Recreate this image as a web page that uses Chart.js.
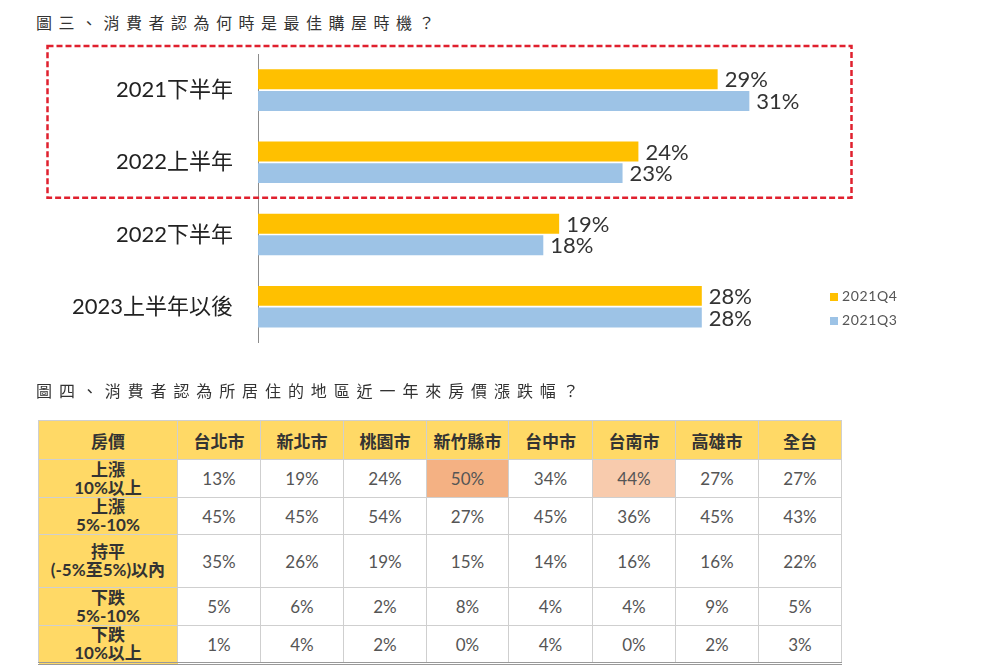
<!DOCTYPE html>
<html><head><meta charset="utf-8">
<script src="https://cdn.jsdelivr.net/npm/chart.js@4.4.1/dist/chart.umd.min.js"></script>
<style>
body{margin:0;background:#fff;width:1000px;height:667px;overflow:hidden;position:relative;font-family:"Noto Sans CJK TC",sans-serif;}
.title{position:absolute;left:36px;font-size:16px;letter-spacing:6.5px;color:#333;line-height:20px;white-space:nowrap;}
#c{position:absolute;left:0;top:0;width:1000px;height:381px;}
.legend{position:absolute;left:830px;font:14px Lato,"Noto Sans CJK TC",sans-serif;color:#555;letter-spacing:0.6px;line-height:18px;}
.legend span.sw{display:inline-block;width:8px;height:8px;margin-right:4px;vertical-align:0px;}
table{position:absolute;left:38px;top:420px;border-collapse:collapse;table-layout:fixed;font-family:Lato,"Noto Sans CJK TC",sans-serif;}
td{border:1px solid #cfcfcf;text-align:center;padding:0;font-size:17px;color:#555;}
td.hd{background:#FFD966;color:#333;font-weight:bold;font-size:17px;}
td.rl{background:#FFD966;color:#333;font-weight:bold;font-size:17px;line-height:18px;}
table{border-bottom:3px double #999;}
</style>
</head><body>
<div class="title" style="top:12px;">圖三、消費者認為何時是最佳購屋時機？</div>
<canvas id="c" width="1000" height="381"></canvas>
<div class="legend" id="legend" style="top:287px;"></div>
<div class="title" style="top:380px;letter-spacing:6.9px;">圖四、消費者認為所居住的地區近一年來房價漲跌幅？</div>
<table id="tbl"></table>
<script>
// ---- Bar chart data ----
const categories = ['2021下半年', '2022上半年', '2022下半年', '2023上半年以後'];
const seriesNames = ['2021Q4', '2021Q3'];
const valuesQ4 = [29, 24, 19, 28];
const valuesQ3 = [31, 23, 18, 28];
const seriesColors = ['#FFC000', '#9DC3E6'];

// ---- Table data ----
const tableHeader = ['房價', '台北市', '新北市', '桃園市', '新竹縣市', '台中市', '台南市', '高雄市', '全台'];
const rowLabels = [['上漲', '10%以上'], ['上漲', '5%-10%'], ['持平', '(-5%至5%)以內'], ['下跌', '5%-10%'], ['下跌', '10%以上']];
const rowUp10 = [13, 19, 24, 50, 34, 44, 27, 27];
const rowUp5 = [45, 45, 54, 27, 45, 36, 45, 43];
const rowFlat = [35, 26, 19, 15, 14, 16, 16, 22];
const rowDown5 = [5, 6, 2, 8, 4, 4, 9, 5];
const rowDown10 = [1, 4, 2, 0, 4, 0, 2, 3];
const tableRows = [rowUp10, rowUp5, rowFlat, rowDown5, rowDown10];
const highlights = [{row: 0, col: 3, color: '#F4B183'}, {row: 0, col: 5, color: '#F8CBAD'}];
const colWidths = [139, 83, 83, 83, 82, 84, 83, 83, 83];
const rowHeights = [39, 38, 37, 53, 38, 38];

// build table
const tbl = document.getElementById('tbl');
const cg = document.createElement('colgroup');
colWidths.forEach(w => { const c = document.createElement('col'); c.style.width = w + 'px'; cg.appendChild(c); });
tbl.appendChild(cg);
const htr = document.createElement('tr'); htr.style.height = rowHeights[0] + 'px';
tableHeader.forEach(h => { const td = document.createElement('td'); td.className = 'hd'; td.textContent = h; htr.appendChild(td); });
tbl.appendChild(htr);
tableRows.forEach((vals, r) => {
  const tr = document.createElement('tr'); tr.style.height = rowHeights[r + 1] + 'px';
  const l = document.createElement('td'); l.className = 'rl'; l.innerHTML = rowLabels[r][0] + '<br>' + rowLabels[r][1]; tr.appendChild(l);
  vals.forEach((v, c) => {
    const td = document.createElement('td'); td.textContent = v + '%';
    const h = highlights.find(x => x.row === r && x.col === c); if (h) td.style.background = h.color;
    tr.appendChild(td);
  });
  tbl.appendChild(tr);
});

// legend
const lg = document.getElementById('legend');
lg.innerHTML = seriesNames.map((n, i) => '<div style="margin-bottom:6px"><span class="sw" style="background:' + seriesColors[i] + '"></span>' + n + '</div>').join('');

const labelFont = '22px Lato, "Noto Sans CJK TC", sans-serif';
const valueLabels = {
  id: 'valueLabels',
  afterDatasetsDraw(chart) {
    const ctx = chart.ctx; ctx.save();
    ctx.font = labelFont; ctx.fillStyle = '#333'; ctx.textBaseline = 'middle'; ctx.textAlign = 'left';
    chart.data.datasets.forEach((ds, i) => {
      chart.getDatasetMeta(i).data.forEach((bar, j) => { ctx.fillText(ds.data[j] + '%', bar.x + 7, bar.y + 1); });
    });
    ctx.restore();
  }
};
const dashedBox = {
  id: 'dashedBox',
  afterDraw(chart) {
    const y = chart.scales.y; const ctx = chart.ctx;
    const p0 = y.getPixelForValue(0), p1 = y.getPixelForValue(1);
    const step = p1 - p0;
    const top = p0 - 0.61 * step, bottom = p1 + 0.49 * step;
    ctx.save(); ctx.strokeStyle = '#E0202E'; ctx.lineWidth = 2.5; ctx.setLineDash([6, 3]);
    ctx.strokeRect(47.5, top, 804, bottom - top);
    ctx.restore();
  }
};

new Chart(document.getElementById('c'), {
  type: 'bar',
  data: {
    labels: categories,
    datasets: [
      {label: seriesNames[0], data: valuesQ4, backgroundColor: seriesColors[0]},
      {label: seriesNames[1], data: valuesQ3, backgroundColor: seriesColors[1]}
    ]
  },
  options: {
    indexAxis: 'y', responsive: false, maintainAspectRatio: false, animation: false, devicePixelRatio: 1,
    categoryPercentage: 0.6, barPercentage: 0.92,
    layout: {padding: {top: 54, bottom: 17, right: 108, left: 0}},
    plugins: {legend: {display: false}, tooltip: {enabled: false}},
    scales: {
      x: {display: false, min: 0, max: 40},
      y: {
        grid: {display: false, drawTicks: false},
        border: {display: true, color: '#8c8c8c', width: 1},
        ticks: {padding: 25, color: '#222', font: {size: 22, family: 'Lato, "Noto Sans CJK TC", sans-serif'}},
        afterFit(s) { s.width = 258; }
      }
    }
  },
  plugins: [valueLabels, dashedBox]
});
</script>
</body></html>
